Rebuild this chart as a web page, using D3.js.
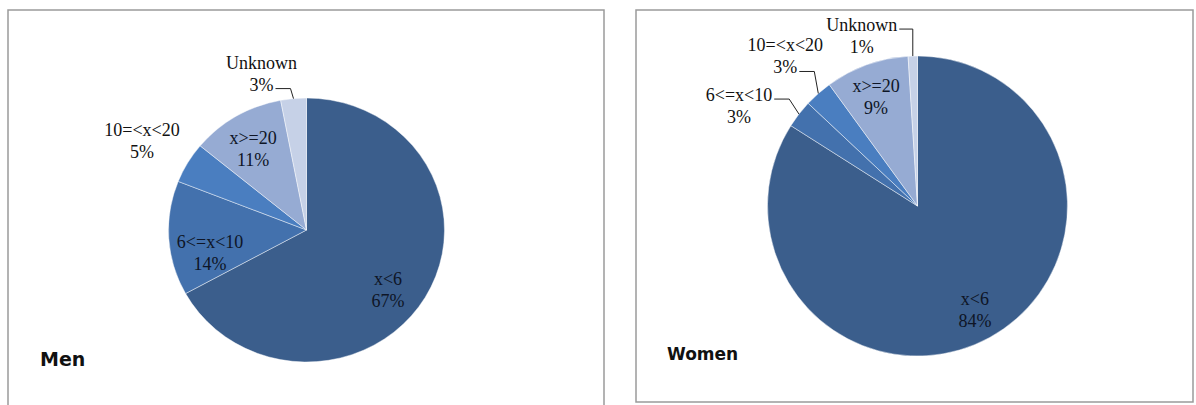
<!DOCTYPE html>
<html lang="en">

<head>
    <meta charset="UTF-8">
    <title>Men / Women pies</title>
    <script src="https://d3js.org/d3.v7.min.js"></script>
    <style>
        body {
            margin: 0;
            background: #fff;
        }

        .lbl {
            font-family: "Liberation Serif", "Times New Roman", serif;
            font-size: 18px;
        }

        .title {
            font-family: "DejaVu Sans", Verdana, sans-serif;
            font-weight: bold;
            fill: #111;
        }
    </style>
</head>

<body>
    <div id="chart"></div>

    <script>
        const categories = ["x<6", "6<=x<10", "10=<x<20", "x>=20", "Unknown"];
        const menValues = [67, 14, 5, 11, 3];
        const womenValues = [84, 3, 3, 9, 1];
        const titles = ["Men", "Women"];
        const sliceColors = ["#3b5e8c", "#4371ad", "#4a7ec0", "#96abd3", "#c6d1e7"];

        const width = 1196, height = 405;

        const svg = d3.select("#chart")
            .append("svg")
            .attr("width", width)
            .attr("height", height);

        const color = d3.scaleOrdinal(categories, sliceColors);

        const pie = d3.pie().sort(null).value(d => d.value);

        // layout of each panel; label placement = polar (mid angle, r) + nudge
        const menLayout = {
            panel: { x: 8, y: 10, w: 596, h: 402 },
            cx: 306.5, cy: 230, rx: 138, ry: 132,
            title: { x: 40, y: 366, size: 19 },
            labels: {
                "x<6": { r: 0.745, dx: -7, dy: 10 },
                "6<=x<10": { r: 0.70, dx: 0, dy: 17 },
                "10=<x<20": { r: 1.2, dx: -22, dy: -8 },
                "x>=20": { r: 0.76, dx: 0, dy: 5 },
                "Unknown": { r: 1, dx: -32, dy: -25, lead: 1 }
            }
        };

        const womenLayout = {
            panel: { x: 636, y: 10, w: 557, h: 392 },
            cx: 917.5, cy: 206, rx: 150, ry: 150,
            title: { x: 667, y: 360, size: 17 },
            labels: {
                "x<6": { r: 0.795, dx: 0, dy: 0 },
                "6<=x<10": { r: 1, dx: -60, dy: -8, lead: 0 },
                "10=<x<20": { r: 1, dx: -33, dy: -37, lead: 1 },
                "x>=20": { r: 0.816, dx: 0, dy: 6 },
                "Unknown": { r: 1, dx: -51, dy: -20, lead: 0 }
            }
        };

        function drawPanel(layout, values, title) {
            const p = layout.panel;
            svg.append("rect")
                .attr("x", p.x)
                .attr("y", p.y)
                .attr("width", p.w)
                .attr("height", p.h)
                .attr("fill", "none")
                .attr("stroke", "#9a9a9a")
                .attr("stroke-width", 1.5);

            const data = categories.map((c, i) => ({ cat: c, value: values[i] }));
            const arcs = pie(data);

            const g = svg.append("g")
                .attr("transform", `translate(${layout.cx},${layout.cy})`);

            const arc = d3.arc().innerRadius(0).outerRadius(layout.rx);

            g.append("g")
                .attr("transform", `scale(1,${layout.ry / layout.rx})`)
                .selectAll("path")
                .data(arcs)
                .join("path")
                .attr("d", arc)
                .attr("fill", d => color(d.data.cat))
                .attr("stroke", "rgba(255,255,255,0.45)")
                .attr("stroke-width", 1);

            arcs.forEach(d => {
                const L = layout.labels[d.data.cat];
                const mid = (d.startAngle + d.endAngle) / 2;
                const sx = Math.sin(mid), sy = -Math.cos(mid);
                const lx = sx * layout.rx * L.r + L.dx;
                const ly = sy * layout.ry * L.r + L.dy;
                const lines = [d.data.cat, d.data.value + "%"];

                const t = g.append("text")
                    .attr("class", "lbl")
                    .attr("text-anchor", "middle")
                    .attr("fill", L.r < 1 ? "#0e1526" : "#111");

                const spans = lines.map((s, i) => t.append("tspan")
                    .attr("x", lx)
                    .attr("y", ly + (i - 0.5) * 22 + 6)
                    .text(s));

                if (L.lead !== undefined) {
                    const w = spans[L.lead].node().getComputedTextLength();
                    const ax = lx + w / 2 + 2;
                    const ay = ly + (L.lead - 0.5) * 22 + 4;
                    const ex = sx * layout.rx, ey = sy * layout.ry;
                    const bx = Math.min(ex, ax + 15);
                    g.append("path")
                        .attr("d", d3.line()([[ax, ay], [bx, ay], [ex, ey]]))
                        .attr("fill", "none")
                        .attr("stroke", "#222")
                        .attr("stroke-width", 1);
                }
            });

            svg.append("text")
                .attr("class", "title")
                .attr("x", layout.title.x)
                .attr("y", layout.title.y)
                .style("font-size", layout.title.size + "px")
                .text(title);
        }

        drawPanel(menLayout, menValues, titles[0]);
        drawPanel(womenLayout, womenValues, titles[1]);
    </script>
</body>

</html>
